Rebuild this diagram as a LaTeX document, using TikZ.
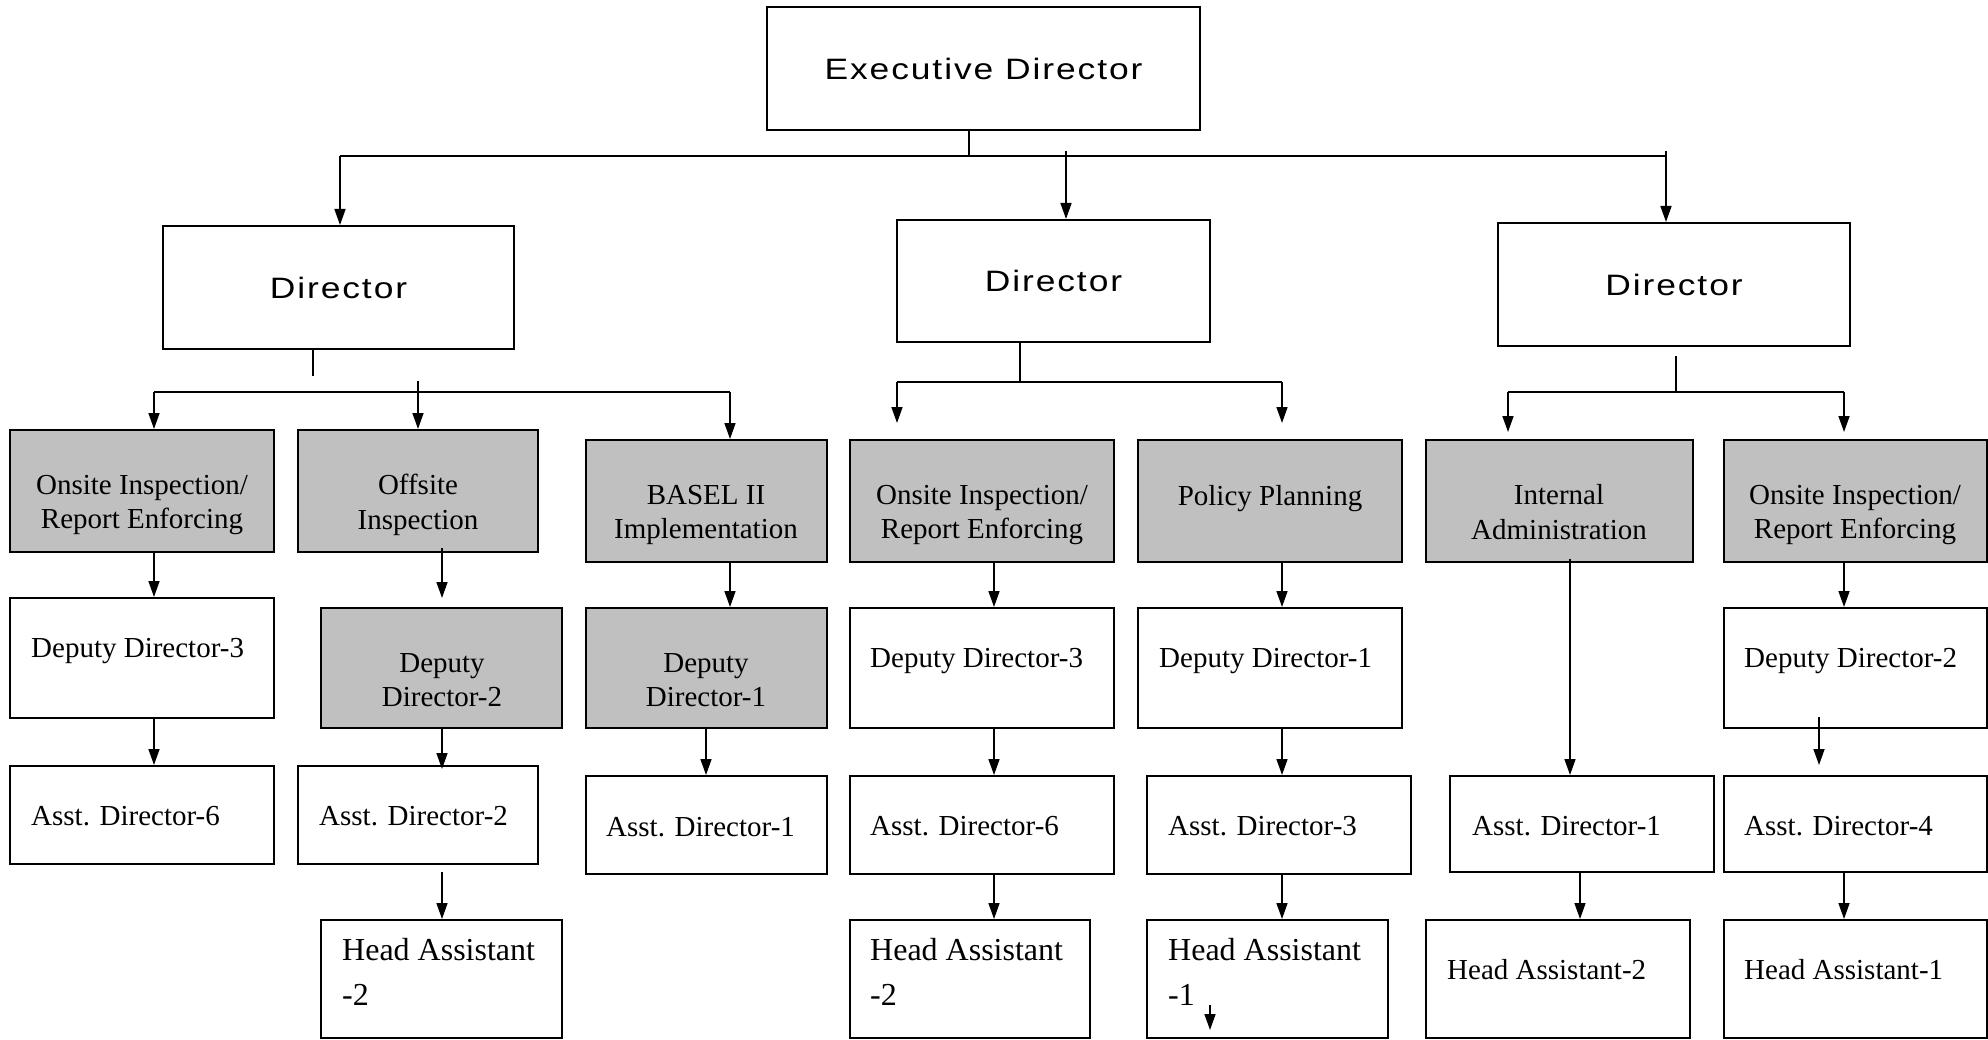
\documentclass[tikz,border=0pt]{standalone}
\usepackage{fontspec}
\setmainfont{Liberation Serif}
\newfontfamily\sanslet[LetterSpace=6.5,FakeStretch=1.2]{Liberation Sans}
\usetikzlibrary{arrows.meta,calc}
\definecolor{boxgray}{RGB}{192,192,192}
\newcommand\bx[6]{\node[#2, minimum width={#5-#3}, minimum height={#6-#4}] (#1) at ({(#3+#5)/2},{(#4+#6)/2}) {};}
\tikzset{
  box/.style={draw, line width=2pt, inner sep=0pt, fill=white},
  gbox/.style={box, fill=boxgray},
  conn/.style={line width=1.6pt},
  arr/.style={conn, -{Triangle[length=16pt,width=11pt]}},
  lbl/.style={inner sep=0pt, font=\fontsize{29}{34.5}\selectfont},
  lblc/.style={lbl, align=center},
  lblw/.style={lbl, anchor=west},
  hlbl/.style={inner sep=0pt, anchor=west, align=left, font=\fontsize{32}{45}\selectfont},
  slbl/.style={inner sep=0pt, font=\sanslet\fontsize{29.5}{35}\selectfont},
}
\begin{document}
\begin{tikzpicture}[x=1pt,y=-1pt]
\useasboundingbox (0,0) rectangle (1988,1040);
% boxes
\bx{exec}{box}{767}{7}{1200}{130}
\bx{d1}{box}{163}{226}{514}{349}
\bx{d2}{box}{897}{220}{1210}{342}
\bx{d3}{box}{1498}{223}{1850}{346}
\bx{g1}{gbox}{10}{430}{274}{552}
\bx{g2}{gbox}{298}{430}{538}{552}
\bx{g3}{gbox}{586}{440}{827}{562}
\bx{g4}{gbox}{850}{440}{1114}{562}
\bx{g5}{gbox}{1138}{440}{1402}{562}
\bx{g6}{gbox}{1426}{440}{1693}{562}
\bx{g7}{gbox}{1724}{440}{1987}{562}
\bx{r3c1}{box}{10}{598}{274}{718}
\bx{r3c2}{gbox}{321}{608}{562}{728}
\bx{r3c3}{gbox}{586}{608}{827}{728}
\bx{r3c4}{box}{850}{608}{1114}{728}
\bx{r3c5}{box}{1138}{608}{1402}{728}
\bx{r3c7}{box}{1724}{608}{1987}{728}
\bx{r4c1}{box}{10}{766}{274}{864}
\bx{r4c2}{box}{298}{766}{538}{864}
\bx{r4c3}{box}{586}{776}{827}{874}
\bx{r4c4}{box}{850}{776}{1114}{874}
\bx{r4c5}{box}{1147}{776}{1411}{874}
\bx{r4c6}{box}{1450}{776}{1714}{872}
\bx{r4c7}{box}{1724}{776}{1987}{872}
\bx{r5c2}{box}{321}{920}{562}{1038}
\bx{r5c4}{box}{850}{920}{1090}{1038}
\bx{r5c5}{box}{1147}{920}{1388}{1038}
\bx{r5c6}{box}{1426}{920}{1690}{1038}
\bx{r5c7}{box}{1724}{920}{1987}{1038}
% texts
\node[slbl] (texec) at (exec) {Executive Director};
\node[slbl] (td1) at (d1) {Director};
\node[slbl] (td2) at (d2) {Director};
\node[slbl] (td3) at (d3) {Director};
\node[lblc] (tg1) at (142,505) {Onsite Inspection/\\Report Enforcing};
\node[lblc] (tg2) at (418,505) {Offsite\\Inspection};
\node[lblc] (tg3) at (706,515) {BASEL II\\Implementation};
\node[lblc] (tg4) at (982,515) {Onsite Inspection/\\Report Enforcing};
\node[lblc] (tg5) at (1270,499) {Policy Planning};
\node[lblc] (tg6) at (1559,512) {Internal\\Administration};
\node[lblc] (tg7) at (1855,515) {Onsite Inspection/\\Report Enforcing};
\node[lblw] (t31) at (31,651) {Deputy Director-3};
\node[lblc] (t32) at (442,680) {Deputy\\Director-2};
\node[lblc] (t33) at (706,680) {Deputy\\Director-1};
\node[lblw] (t34) at (870,661) {Deputy Director-3};
\node[lblw] (t35) at (1159,661) {Deputy Director-1};
\node[lblw] (t37) at (1744,661) {Deputy Director-2};
\node[lblw] (t41) at (31,816.5) {Asst. Director-6};
\node[lblw] (t42) at (319,816.5) {Asst. Director-2};
\node[lblw] (t43) at (606,827) {Asst. Director-1};
\node[lblw] (t44) at (870,826) {Asst. Director-6};
\node[lblw] (t45) at (1168,826) {Asst. Director-3};
\node[lblw] (t46) at (1472,826) {Asst. Director-1};
\node[lblw] (t47) at (1744,826) {Asst. Director-4};
\node[hlbl] (t52) at (342,972) {Head Assistant\\-2};
\node[hlbl] (t54) at (870,972) {Head Assistant\\-2};
\node[hlbl] (t55) at (1168,972) {Head Assistant\\-1};
\node[lblw] (t56) at (1447,970) {Head Assistant-2};
\node[lblw] (t57) at (1744,970) {Head Assistant-1};
% column x coordinates
\coordinate (xA) at (154,0);
\coordinate (xC) at (442,0);
\coordinate (xD) at (730,0);
\coordinate (xE) at (706,0);
\coordinate (xG) at (994,0);
\coordinate (xH) at (1282,0);
\coordinate (xI) at (1570,0);
\coordinate (xJ) at (1580,0);
\coordinate (xK) at (1844,0);
\coordinate (xL) at (1819,0);
% top level
\coordinate (e0) at (969,156);
\coordinate (b0l) at (340,156);
\coordinate (b0r) at (1666,156);
\coordinate (b0m) at (1066,151);
\coordinate (b0rt) at (1666,151);
\draw[conn] (exec.south -| e0) -- (e0);
\draw[conn] (b0l) -- (b0r);
\draw[arr] (b0l) -- (d1.north -| b0l);
\draw[arr] (b0m) -- (d2.north -| b0m);
\draw[arr] (b0rt) -- (d3.north -| b0rt);
% director 1
\coordinate (s1) at (313,376);
\coordinate (b1l) at (154,392);
\coordinate (b1r) at (730,392);
\coordinate (b1m) at (418,381);
\draw[conn] (d1.south -| s1) -- (s1);
\draw[conn] (b1l) -- (b1r);
\draw[arr] (b1l) -- (g1.north -| b1l);
\draw[arr] (b1m) -- (g2.north -| b1m);
\draw[arr] (b1r) -- (g3.north -| b1r);
% director 2
\coordinate (s2) at (1020,382);
\coordinate (b2l) at (897,382);
\coordinate (b2r) at (1282,382);
\coordinate (a2l) at (897,423);
\coordinate (a2r) at (1282,423);
\draw[conn] (d2.south -| s2) -- (s2);
\draw[conn] (b2l) -- (b2r);
\draw[arr] (b2l) -- (a2l);
\draw[arr] (b2r) -- (a2r);
% director 3
\coordinate (s3t) at (1676,356);
\coordinate (s3) at (1676,392);
\coordinate (b3l) at (1508,392);
\coordinate (b3r) at (1844,392);
\coordinate (a3l) at (1508,432);
\coordinate (a3r) at (1844,432);
\draw[conn] (s3t) -- (s3);
\draw[conn] (b3l) -- (b3r);
\draw[arr] (b3l) -- (a3l);
\draw[arr] (b3r) -- (a3r);
% row 2 -> row 3
\draw[arr] (g1.south -| xA) -- (r3c1.north -| xA);
\coordinate (g2s) at (442,548);
\coordinate (g2e) at (442,598);
\draw[arr] (g2s) -- (g2e);
\draw[arr] (g3.south -| xD) -- (r3c3.north -| xD);
\draw[arr] (g4.south -| xG) -- (r3c4.north -| xG);
\draw[arr] (g5.south -| xH) -- (r3c5.north -| xH);
\coordinate (g6s) at (1570,559);
\draw[arr] (g6s) -- (r4c6.north -| xI);
\draw[arr] (g7.south -| xK) -- (r3c7.north -| xK);
% row 3 -> row 4
\draw[arr] (r3c1.south -| xA) -- (r4c1.north -| xA);
\coordinate (c2e) at (442,769);
\draw[arr] (r3c2.south -| xC) -- (c2e);
\draw[arr] (r3c3.south -| xE) -- (r4c3.north -| xE);
\draw[arr] (r3c4.south -| xG) -- (r4c4.north -| xG);
\draw[arr] (r3c5.south -| xH) -- (r4c5.north -| xH);
\coordinate (c7s) at (1819,717);
\coordinate (c7e) at (1819,765);
\draw[arr] (c7s) -- (c7e);
% row 4 -> row 5
\coordinate (d2s) at (442,872);
\draw[arr] (d2s) -- (r5c2.north -| xC);
\draw[arr] (r4c4.south -| xG) -- (r5c4.north -| xG);
\draw[arr] (r4c5.south -| xH) -- (r5c5.north -| xH);
\draw[arr] (r4c6.south -| xJ) -- (r5c6.north -| xJ);
\draw[arr] (r4c7.south -| xK) -- (r5c7.north -| xK);
% stray arrow
\coordinate (sa) at (1210,1005);
\coordinate (sb) at (1210,1030);
\draw[arr] (sa) -- (sb);
\end{tikzpicture}
\end{document}
